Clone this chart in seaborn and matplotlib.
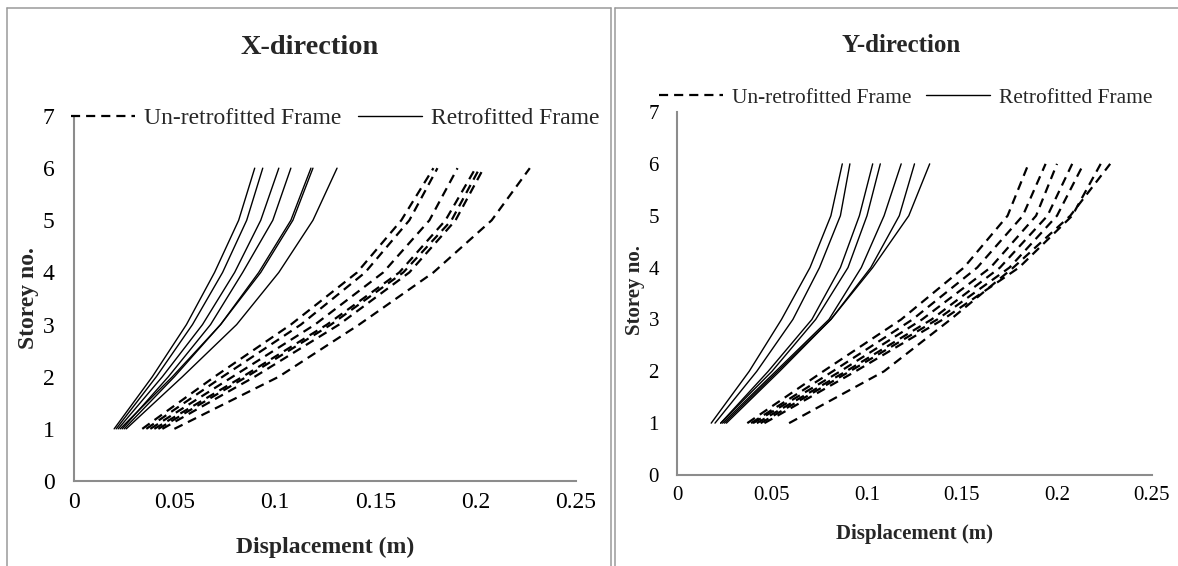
import numpy as np
import pandas as pd
import seaborn as sns
import matplotlib
matplotlib.use("Agg")
import matplotlib.pyplot as plt
from matplotlib.lines import Line2D

# storey levels (same for every case)
storeys = [1, 2, 3, 4, 5, 6]

# X-direction displacements (m), one row per analysis case
x_retrofitted = [
    [0.020, 0.039, 0.056, 0.070, 0.082, 0.090],
    [0.021, 0.041, 0.059, 0.074, 0.086, 0.094],
    [0.022, 0.044, 0.064, 0.080, 0.093, 0.102],
    [0.024, 0.047, 0.068, 0.084, 0.099, 0.108],
    [0.025, 0.050, 0.073, 0.092, 0.108, 0.118],
    [0.023, 0.049, 0.073, 0.093, 0.109, 0.119],
    [0.026, 0.054, 0.081, 0.102, 0.119, 0.131],
]
x_unretrofitted = [
    [0.034, 0.070, 0.108, 0.141, 0.163, 0.179],
    [0.036, 0.074, 0.113, 0.145, 0.167, 0.181],
    [0.038, 0.079, 0.120, 0.154, 0.177, 0.191],
    [0.040, 0.084, 0.126, 0.162, 0.185, 0.200],
    [0.042, 0.086, 0.128, 0.164, 0.188, 0.202],
    [0.044, 0.090, 0.132, 0.167, 0.190, 0.204],
    [0.050, 0.102, 0.142, 0.179, 0.208, 0.227],
]

# Y-direction displacements (m)
y_retrofitted = [
    [0.018, 0.038, 0.055, 0.070, 0.081, 0.087],
    [0.020, 0.042, 0.061, 0.075, 0.086, 0.091],
    [0.023, 0.048, 0.071, 0.086, 0.096, 0.103],
    [0.023, 0.050, 0.073, 0.090, 0.100, 0.107],
    [0.024, 0.052, 0.080, 0.097, 0.109, 0.118],
    [0.025, 0.053, 0.081, 0.102, 0.117, 0.125],
    [0.026, 0.054, 0.081, 0.103, 0.122, 0.133],
]
y_unretrofitted = [
    [0.037, 0.077, 0.118, 0.151, 0.174, 0.185],
    [0.039, 0.082, 0.124, 0.158, 0.182, 0.194],
    [0.040, 0.086, 0.129, 0.165, 0.189, 0.200],
    [0.042, 0.089, 0.134, 0.170, 0.195, 0.208],
    [0.044, 0.091, 0.137, 0.175, 0.200, 0.214],
    [0.046, 0.094, 0.140, 0.180, 0.208, 0.223],
    [0.059, 0.109, 0.144, 0.177, 0.207, 0.228],
]

x_ticks = [0, 0.05, 0.1, 0.15, 0.2, 0.25]
x_ticklabels = ["0", "0.05", "0.1", "0.15", "0.2", "0.25"]
y_ticks = [0, 1, 2, 3, 4, 5, 6, 7]

GRAY = "#8c8c8c"
DASH = (0, (4.1, 2.7))
W, H = 1178, 566


def to_long(cases):
    rows = []
    for i, disp in enumerate(cases):
        for s, d in zip(storeys, disp):
            rows.append((i, s, d))
    return pd.DataFrame(rows, columns=["case", "storey", "disp"])


def draw_panel(ax, retro, unretro, fs, title, title_xy, leg_xy, leg_fs, hlen,
               ypad, xpad, xlab_y, ylab_x, ylab_y):
    sns.lineplot(data=to_long(retro), x="disp", y="storey", units="case",
                 estimator=None, sort=False, color="black", lw=1.0, ax=ax)
    sns.lineplot(data=to_long(unretro), x="disp", y="storey", units="case",
                 estimator=None, sort=False, color="black", lw=1.6, ls=DASH, ax=ax)
    ax.set_xlim(0, 0.25)
    ax.set_ylim(0, 7)
    ax.set_xticks(x_ticks)
    ax.set_xticklabels(x_ticklabels)
    ax.set_yticks(y_ticks)
    ax.tick_params(axis="both", length=0, labelsize=fs, colors="black")
    ax.tick_params(axis="y", pad=ypad)
    ax.tick_params(axis="x", pad=xpad)
    for side in ["top", "right"]:
        ax.spines[side].set_visible(False)
    for side in ["left", "bottom"]:
        ax.spines[side].set_color(GRAY)
        ax.spines[side].set_linewidth(1.5)
    ax.set_facecolor("white")
    ax.grid(False)

    ax.set_xlabel("Displacement (m)", fontsize=fs, fontweight="bold")
    ax.set_ylabel("Storey no.", fontsize=fs, fontweight="bold")
    ax.xaxis.set_label_coords(0.5, xlab_y)
    ax.yaxis.set_label_coords(ylab_x, ylab_y)

    fig.text(title_xy[0] / W, 1 - title_xy[1] / H, title, ha="center", va="center",
             fontsize=fs * 1.2, fontweight="bold")

    handles = [Line2D([], [], color="black", lw=1.6, ls=DASH),
               Line2D([], [], color="black", lw=1.0)]
    ax.legend(handles, ["Un-retrofitted Frame", "Retrofitted Frame"], ncol=2,
              loc="center left", bbox_to_anchor=(leg_xy[0] / W, 1 - leg_xy[1] / H),
              bbox_transform=fig.transFigure, frameon=False, fontsize=leg_fs,
              borderpad=0, borderaxespad=0, handlelength=hlen, handletextpad=0.4,
              columnspacing=0.7)


sns.set_theme(style="white")
plt.rcParams["font.family"] = ["Liberation Serif", "DejaVu Serif"]

fig = plt.figure(figsize=(W / 100, H / 100), dpi=100)
ax1 = fig.add_axes([74 / W, 1 - 481 / H, 502 / W, 365 / H])
ax2 = fig.add_axes([677 / W, 1 - 475 / H, 475 / W, 363 / H])

draw_panel(ax1, x_retrofitted, x_unretrofitted, 17, "X-direction", (310, 47), (71, 118),
           17, 2.7, ypad=14, xpad=8, xlab_y=-0.153, ylab_x=-0.069, ylab_y=0.5)
draw_panel(ax2, y_retrofitted, y_unretrofitted, 15, "Y-direction", (901, 45), (659, 98),
           15.4, 3.0, ypad=13, xpad=8, xlab_y=-0.135, ylab_x=-0.067, ylab_y=0.51)

# panel frames
border = dict(color="#9a9a9a", lw=1.1, transform=fig.transFigure)
fig.add_artist(Line2D([7 / W, 611 / W], [1 - 8 / H, 1 - 8 / H], **border))
fig.add_artist(Line2D([7 / W, 7 / W], [1 - 8 / H, 0], **border))
fig.add_artist(Line2D([611 / W, 611 / W], [1 - 8 / H, 0], **border))
fig.add_artist(Line2D([615 / W, 615 / W], [1 - 8 / H, 0], **border))
fig.add_artist(Line2D([615 / W, 1], [1 - 8 / H, 1 - 8 / H], **border))

fig.savefig("out.png", dpi=100)
